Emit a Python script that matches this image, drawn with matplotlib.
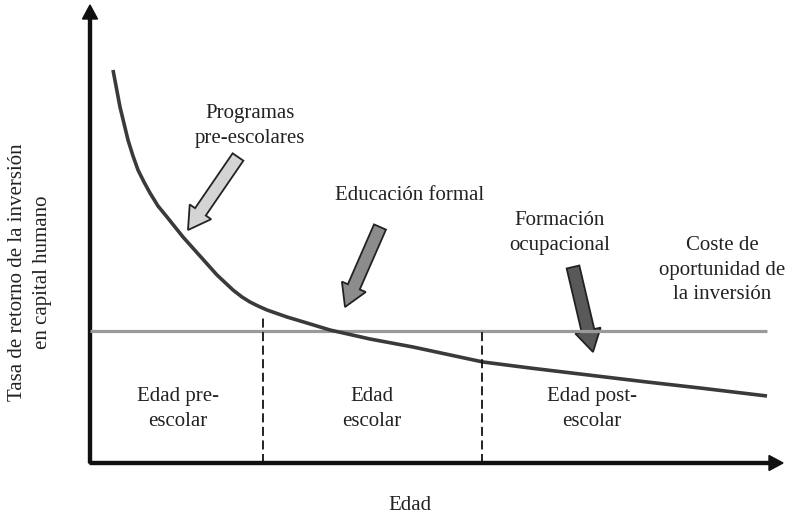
"""Heckman-style curve: return to human-capital investment by age."""

import matplotlib

matplotlib.use("Agg")

import matplotlib.pyplot as plt
from matplotlib.patches import FancyArrow

# Curve of the rate of return (arbitrary units)
edad = [23, 30, 38, 43, 48, 54, 60, 68, 77, 93, 110, 127, 143, 152, 160, 168, 177, 197,
        217, 240, 280, 323, 393, 440, 490, 557, 610, 677]
tasa = [393, 356, 323, 307, 293, 281, 270, 257, 246, 226, 207, 188, 173, 166, 161, 157,
        153, 146, 140, 133, 124, 116, 101, 95, 89, 81, 75, 67]

coste_oportunidad = 132
coste_x = [0, 677]

# Borders between age stages, and how high each dashed line reaches
limites_edad = [173, 392]
limites_top = [148, 131]

etapas = ["Edad pre-\nescolar", "Edad\nescolar", "Edad post-\nescolar"]
etapas_x = [88, 282, 502]
etapas_y = 54

# Call-out arrows: label, (tail), (tip), fill colour
programas = ["Programas\npre-escolares", "Educación formal", "Formación\nocupacional"]
programas_pos = [(160, 337), (320, 268), (470, 230)]
flechas_cola = [(148, 306), (290, 236), (483, 196)]
flechas_punta = [(98, 233), (255, 156), (503, 111)]
flechas_color = ["#d4d4d4", "#8c8c8c", "#595959"]

X_MAX, Y_MAX = 693, 458
FS = 15

plt.rcParams["font.family"] = ["Liberation Serif", "DejaVu Serif"]

fig = plt.figure(figsize=(7.89, 5.18), dpi=100)
ax = fig.add_axes([90 / 789, 55 / 518, X_MAX / 789, Y_MAX / 518])
ax.set_xlim(0, X_MAX)
ax.set_ylim(0, Y_MAX)
ax.axis("off")

# axes with arrowheads
ax.add_patch(FancyArrow(0, 0, 0, Y_MAX, width=3, head_width=15, head_length=14,
                        length_includes_head=True, color="#111111", clip_on=False))
ax.add_patch(FancyArrow(0, 0, X_MAX, 0, width=3, head_width=15, head_length=14,
                        length_includes_head=True, color="#111111", clip_on=False))

# opportunity cost line and the curve
ax.plot(coste_x, [coste_oportunidad] * 2, color="#9a9a9a", lw=2.3, solid_capstyle="butt")
ax.plot(edad, tasa, color="#3a3a3a", lw=2.6, solid_capstyle="butt",
        solid_joinstyle="round")

for x, top in zip(limites_edad, limites_top):
    ax.plot([x, x], [0, top], color="#111111", lw=1.3, linestyle=(0, (5, 2.5)))

for label, x in zip(etapas, etapas_x):
    ax.text(x, etapas_y, label, ha="center", va="center", fontsize=FS,
            linespacing=1.4, color="#222222")

for label, pos, cola, punta, color in zip(programas, programas_pos, flechas_cola,
                                          flechas_punta, flechas_color):
    ax.text(pos[0], pos[1], label, ha="center", va="center", fontsize=FS,
            linespacing=1.4, color="#222222")
    ax.add_patch(FancyArrow(cola[0], cola[1], punta[0] - cola[0], punta[1] - cola[1],
                            width=13, head_width=26, head_length=22,
                            length_includes_head=True, facecolor=color,
                            edgecolor="#222222", lw=1.3))

ax.text(632, 193, "Coste de\noportunidad de\nla inversión", ha="center", va="center",
        fontsize=FS, linespacing=1.4, color="#222222")

ax.text(320, -42, "Edad", ha="center", va="center", fontsize=FS, color="#222222",
        clip_on=False)
ax.text(-60, 191, "Tasa de retorno de la inversión\nen capital humano", ha="center",
        va="center", rotation=90, fontsize=FS, linespacing=1.4, color="#222222",
        clip_on=False)

fig.savefig("out.png", dpi=100)
